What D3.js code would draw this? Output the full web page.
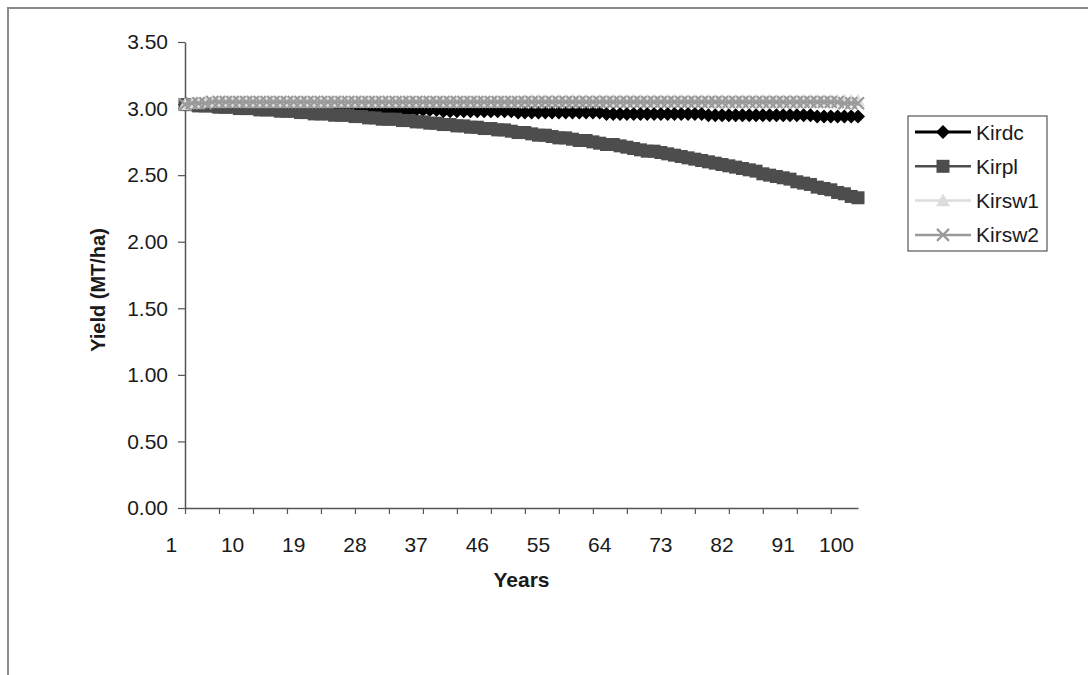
<!DOCTYPE html>
<html>
<head>
<meta charset="utf-8">
<script src="https://cdn.jsdelivr.net/npm/d3@7"></script>
<style>
  html, body { margin: 0; padding: 0; background: #fff; }
  svg { display: block; font-family: Arial, "Liberation Sans", sans-serif; }
</style>
</head>
<body>
<svg id="chart" width="1088" height="675"></svg>
<script>
// Simulated yield per year for four scenarios
const years = d3.range(3, 103);

const kirdc = [
  3.03, 3.03, 3.03, 3.03, 3.02, 3.02, 3.02, 3.02, 3.02, 3.02,
  3.02, 3.02, 3.01, 3.01, 3.01, 3.01, 3.01, 3.01, 3.01, 3.01,
  3.00, 3.00, 3.00, 3.00, 3.00, 3.00, 3.00, 3.00, 3.00, 2.99,
  2.99, 2.99, 2.99, 2.99, 2.99, 2.99, 2.99, 2.99, 2.98, 2.98,
  2.98, 2.98, 2.98, 2.98, 2.98, 2.98, 2.98, 2.98, 2.98, 2.97,
  2.97, 2.97, 2.97, 2.97, 2.97, 2.97, 2.97, 2.97, 2.97, 2.97,
  2.97, 2.97, 2.96, 2.96, 2.96, 2.96, 2.96, 2.96, 2.96, 2.96,
  2.96, 2.96, 2.96, 2.96, 2.96, 2.96, 2.96, 2.95, 2.95, 2.95,
  2.95, 2.95, 2.95, 2.95, 2.95, 2.95, 2.95, 2.95, 2.95, 2.95,
  2.95, 2.95, 2.95, 2.94, 2.94, 2.94, 2.94, 2.94, 2.94, 2.94
];

const kirpl = [
  3.03, 3.03, 3.02, 3.02, 3.02, 3.01, 3.01, 3.01, 3.00, 3.00,
  3.00, 2.99, 2.99, 2.99, 2.98, 2.98, 2.98, 2.97, 2.97, 2.96,
  2.96, 2.96, 2.95, 2.95, 2.95, 2.94, 2.94, 2.93, 2.93, 2.92,
  2.92, 2.92, 2.91, 2.91, 2.90, 2.90, 2.89, 2.89, 2.88, 2.88,
  2.87, 2.87, 2.86, 2.86, 2.85, 2.85, 2.84, 2.84, 2.83, 2.82,
  2.82, 2.81, 2.80, 2.80, 2.79, 2.78, 2.78, 2.77, 2.76, 2.76,
  2.75, 2.74, 2.73, 2.73, 2.72, 2.71, 2.70, 2.69, 2.68, 2.68,
  2.67, 2.66, 2.65, 2.64, 2.63, 2.62, 2.61, 2.60, 2.59, 2.58,
  2.57, 2.56, 2.55, 2.54, 2.53, 2.51, 2.50, 2.49, 2.48, 2.47,
  2.45, 2.44, 2.43, 2.41, 2.40, 2.39, 2.37, 2.36, 2.34, 2.33
];

const kirsw1 = [
  3.03, 3.04, 3.04, 3.05, 3.05, 3.05, 3.05, 3.05, 3.05, 3.05,
  3.05, 3.05, 3.05, 3.05, 3.05, 3.05, 3.05, 3.05, 3.05, 3.05,
  3.05, 3.05, 3.05, 3.05, 3.05, 3.05, 3.05, 3.05, 3.05, 3.05,
  3.05, 3.05, 3.05, 3.05, 3.05, 3.05, 3.05, 3.05, 3.05, 3.05,
  3.05, 3.05, 3.05, 3.05, 3.05, 3.05, 3.05, 3.05, 3.05, 3.05,
  3.06, 3.06, 3.06, 3.06, 3.06, 3.06, 3.06, 3.06, 3.06, 3.06,
  3.06, 3.06, 3.06, 3.06, 3.06, 3.06, 3.06, 3.06, 3.06, 3.06,
  3.06, 3.06, 3.06, 3.06, 3.06, 3.06, 3.06, 3.06, 3.06, 3.06,
  3.06, 3.06, 3.06, 3.06, 3.06, 3.06, 3.06, 3.06, 3.06, 3.06,
  3.06, 3.06, 3.06, 3.06, 3.06, 3.06, 3.06, 3.06, 3.06, 3.06
];

const kirsw2 = [
  3.03, 3.04, 3.04, 3.04, 3.05, 3.05, 3.05, 3.05, 3.05, 3.05,
  3.05, 3.05, 3.05, 3.05, 3.05, 3.05, 3.05, 3.05, 3.05, 3.05,
  3.05, 3.05, 3.05, 3.05, 3.05, 3.05, 3.05, 3.05, 3.05, 3.05,
  3.05, 3.05, 3.05, 3.05, 3.05, 3.05, 3.05, 3.05, 3.05, 3.05,
  3.05, 3.05, 3.05, 3.05, 3.05, 3.05, 3.05, 3.05, 3.05, 3.05,
  3.05, 3.05, 3.05, 3.05, 3.05, 3.05, 3.05, 3.05, 3.05, 3.05,
  3.05, 3.05, 3.05, 3.05, 3.05, 3.05, 3.05, 3.05, 3.05, 3.05,
  3.05, 3.05, 3.05, 3.05, 3.05, 3.05, 3.05, 3.05, 3.05, 3.05,
  3.05, 3.05, 3.05, 3.05, 3.05, 3.05, 3.05, 3.05, 3.05, 3.05,
  3.05, 3.05, 3.05, 3.05, 3.05, 3.05, 3.05, 3.04, 3.04, 3.04
];

const seriesNames = ["Kirdc", "Kirpl", "Kirsw1", "Kirsw2"];
const seriesValues = [kirdc, kirpl, kirsw1, kirsw2];

const yTicks = [0, 0.5, 1, 1.5, 2, 2.5, 3, 3.5];
const xTickLabels = [1, 10, 19, 28, 37, 46, 55, 64, 73, 82, 91, 100];
const xTickMarks = d3.range(3, 102, 5);

// Look of each series: line colour, line width, marker shape and colour
const looks = {
  Kirdc:  { stroke: "#000000", width: 3,   shape: "diamond",  fill: "#000000", size: 14 },
  Kirpl:  { stroke: "#4d4d4d", width: 2.5, shape: "square",   fill: "#4d4d4d", size: 13 },
  Kirsw1: { stroke: "#dcdcdc", width: 2.5, shape: "triangle", fill: "#dcdcdc", size: 14 },
  Kirsw2: { stroke: "#9a9a9a", width: 2.5, shape: "cross",    fill: "none",    size: 12 }
};

function markerPath(shape, s) {
  const r = s / 2;
  switch (shape) {
    case "diamond":  return `M0,${-r}L${r},0L0,${r}L${-r},0Z`;
    case "square":   return `M${-r},${-r}h${s}v${s}h${-s}Z`;
    case "triangle": return `M0,${-r}L${r},${r * 0.8}L${-r},${r * 0.8}Z`;
    default:         return `M${-r},${-r}L${r},${r}M${r},${-r}L${-r},${r}`;
  }
}

function drawMarker(sel, look) {
  sel.attr("d", markerPath(look.shape, look.size));
  if (look.shape === "cross") {
    sel.attr("fill", "none").attr("stroke", look.stroke).attr("stroke-width", 2.2);
  } else {
    sel.attr("fill", look.fill).attr("stroke", "none");
  }
}

const svg = d3.select("#chart");

// Chart-area frame
svg.append("rect")
  .attr("x", 8).attr("y", 8)
  .attr("width", 1300).attr("height", 900)
  .attr("fill", "none")
  .attr("stroke", "#8a8a8a")
  .attr("stroke-width", 2);

const plot = { left: 185, right: 858, top: 42, bottom: 508 };

const x = d3.scaleLinear().domain([3, 102]).range([plot.left, plot.right]);
const y = d3.scaleLinear().domain([0, 3.5]).range([plot.bottom, plot.top]);

const axisColor = "#555";
const textColor = "#1a1a1a";

// Y axis
const yAxisG = svg.append("g")
  .attr("transform", `translate(${plot.left},0)`)
  .call(d3.axisLeft(y)
    .tickValues(yTicks)
    .tickFormat(d3.format(".2f"))
    .tickSize(7)
    .tickSizeOuter(0)
    .tickPadding(10));
yAxisG.select(".domain").attr("stroke", axisColor).attr("stroke-width", 1.5);
yAxisG.selectAll(".tick line").attr("stroke", axisColor).attr("stroke-width", 1.2);
yAxisG.selectAll(".tick text")
  .attr("font-size", 21)
  .attr("fill", textColor)
  .attr("font-family", "Arial, 'Liberation Sans', sans-serif");

// X axis: tick marks
const xAxisG = svg.append("g")
  .attr("transform", `translate(0,${plot.bottom})`)
  .call(d3.axisBottom(x)
    .tickValues(xTickMarks)
    .tickFormat("")
    .tickSize(6)
    .tickSizeOuter(0));
xAxisG.select(".domain").attr("stroke", axisColor).attr("stroke-width", 1.5);
xAxisG.selectAll(".tick line").attr("stroke", axisColor).attr("stroke-width", 1.2);

// X axis: year labels
const xLabelG = svg.append("g").attr("transform", `translate(0,${plot.bottom})`);
xLabelG.selectAll("text")
  .data(xTickLabels)
  .join("text")
  .attr("x", d => x(d))
  .attr("y", 37)
  .attr("dy", "0.35em")
  .attr("text-anchor", "middle")
  .attr("font-size", 21)
  .attr("fill", textColor)
  .text(d => d)
  .each(function () {
    // keep the last label inside the axis extent
    const w = this.getComputedTextLength();
    const cx = +this.getAttribute("x");
    if (cx + w / 2 > plot.right - 4) this.setAttribute("x", plot.right - 4 - w / 2);
  });

// Axis titles
svg.append("text")
  .attr("x", (plot.left + plot.right) / 2)
  .attr("y", 587)
  .attr("text-anchor", "middle")
  .attr("font-size", 21)
  .attr("font-weight", "bold")
  .attr("fill", textColor)
  .text("Years");

svg.append("text")
  .attr("transform", `translate(105,290) rotate(-90)`)
  .attr("text-anchor", "middle")
  .attr("font-size", 20)
  .attr("font-weight", "bold")
  .attr("fill", textColor)
  .text("Yield (MT/ha)");

// Series
const line = d3.line().x(d => x(d.year)).y(d => y(d.value));

seriesNames.forEach((name, i) => {
  const look = looks[name];
  const pts = years.map((yr, j) => ({ year: yr, value: seriesValues[i][j] }));
  const g = svg.append("g").attr("class", "series");
  g.append("path")
    .datum(pts)
    .attr("d", line)
    .attr("fill", "none")
    .attr("stroke", look.stroke)
    .attr("stroke-width", look.width);
  g.selectAll("path.marker")
    .data(pts)
    .join("path")
    .attr("class", "marker")
    .attr("transform", d => `translate(${x(d.year)},${y(d.value)})`)
    .call(drawMarker, look);
});

// Legend
const legend = svg.append("g");
legend.append("rect")
  .attr("x", 908).attr("y", 116)
  .attr("width", 139).attr("height", 135)
  .attr("fill", "#fff")
  .attr("stroke", "#555")
  .attr("stroke-width", 1.2);

seriesNames.forEach((name, i) => {
  const look = looks[name];
  const cy = 132 + i * 34.3;
  const row = legend.append("g");
  row.append("line")
    .attr("x1", 915).attr("x2", 971)
    .attr("y1", cy).attr("y2", cy)
    .attr("stroke", look.stroke)
    .attr("stroke-width", look.width);
  row.append("path")
    .attr("transform", `translate(943,${cy})`)
    .call(drawMarker, look);
  row.append("text")
    .attr("x", 976)
    .attr("y", cy)
    .attr("dy", "0.36em")
    .attr("font-size", 21)
    .attr("fill", textColor)
    .text(name);
});
</script>
</body>
</html>
